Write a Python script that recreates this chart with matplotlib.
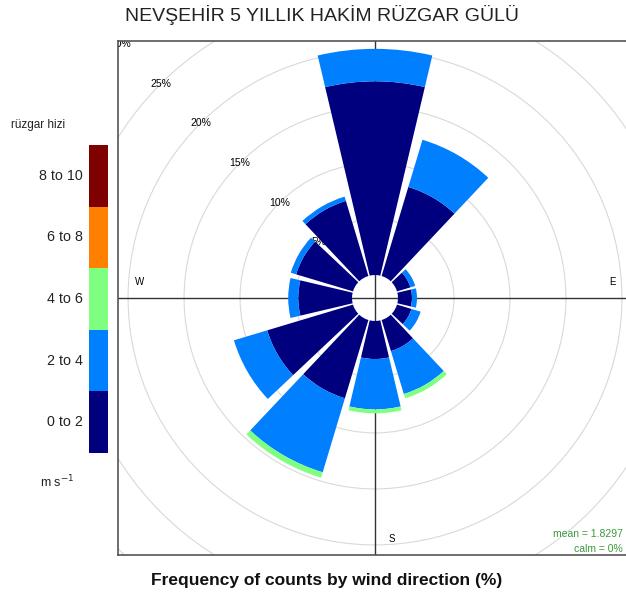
import numpy as np
import matplotlib
matplotlib.use('Agg')
import matplotlib.pyplot as plt
from matplotlib.patches import Wedge, Circle

plt.rcParams['font.family'] = ['Liberation Sans', 'DejaVu Sans']

# wind directions (deg, compass) and frequency (%) per speed class
directions = [0, 30, 60, 90, 120, 150, 180, 210, 240, 270, 300, 330]
spd_0_2 = [17.3, 8.3, 1.25, 1.25, 1.35, 2.9, 3.4, 7.3, 8.0, 4.8, 5.3, 7.0]
spd_2_4 = [2.9, 4.4, 0.45, 0.45, 0.85, 4.0, 4.5, 6.9, 3.1, 0.9, 0.5, 0.4]
spd_4_6 = [0, 0, 0, 0, 0, 0.4, 0.35, 0.5, 0, 0, 0, 0]
spd_6_8 = [0] * 12
spd_8_10 = [0] * 12
classes = ['0 to 2', '2 to 4', '4 to 6', '6 to 8', '8 to 10']
colours = ['#00007F', '#007FFF', '#7FFF7F', '#FF7F00', '#7F0000']
grid_levels = [5, 10, 15, 20, 25, 30]
mean_ws = 1.8297
calm = 0

W, H = 626, 600
fig = plt.figure(figsize=(W / 100, H / 100), dpi=100)

# main panel (extends past the right edge, as in the original)
off = 2.05            # calm circle radius in % units
half = 22.95          # half width of panel in % units
ax = fig.add_axes([118 / W, (H - 556) / H, 514 / W, 516 / H])
ax.set_xlim(-half, half)
ax.set_ylim(-half, half)
ax.set_aspect('equal')
ax.set_xticks([])
ax.set_yticks([])
for s in ax.spines.values():
    s.set_color('#555555')
    s.set_linewidth(1.2)

# grid circles and labels
for g in grid_levels:
    ax.add_patch(Circle((0, 0), off + g, fill=False, ec='#d9d9d9', lw=0.8, zorder=1))
    a = np.deg2rad(315)
    ax.text((off + g) * np.sin(a), (off + g) * np.cos(a), '%d%%' % g,
            fontsize=7.5, ha='center', va='center', zorder=1, clip_on=True)

# axis cross
ax.axhline(0, color='#333333', lw=1, zorder=1)
ax.axvline(0, color='#333333', lw=1, zorder=1)
lab_r = 21.2
ax.text(1.5, lab_r, 'N', fontsize=7, ha='center', va='center', zorder=1)
ax.text(-lab_r + 0.2, 1.4, 'W', fontsize=7, ha='center', va='center', zorder=1)
ax.text(lab_r, 1.4, 'E', fontsize=7, ha='center', va='center', zorder=1)
ax.text(1.5, -lab_r - 0.3, 'S', fontsize=7, ha='center', va='center', zorder=1)

# stacked wedges
bar_w = 26.6
series = [spd_0_2, spd_2_4, spd_4_6, spd_6_8, spd_8_10]
for i, d in enumerate(directions):
    base = off
    for vals, col in zip(series, colours):
        v = vals[i]
        if v <= 0:
            continue
        th = 90 - d
        ax.add_patch(Wedge((0, 0), base + v, th - bar_w / 2, th + bar_w / 2,
                           width=v, fc=col, ec='none', zorder=3))
        base += v

fig.text(623 / W, 1 - 534 / H, 'mean = %s' % mean_ws,
         fontsize=7.5, color='#3a9a3a', ha='right', va='center')
fig.text(623 / W, 1 - 549 / H, 'calm = %d%%' % calm,
         fontsize=7.5, color='#3a9a3a', ha='right', va='center')

# colour key
kax = fig.add_axes([89 / W, (H - 453) / H, 19 / W, 308 / H])
kax.bar([0] * 5, [1] * 5, bottom=range(5), width=1, color=colours)
kax.set_xlim(-0.5, 0.5)
kax.set_ylim(0, 5)
kax.axis('off')
for i, c in enumerate(classes):
    kax.text(-0.32, i + 0.5, c, transform=kax.get_yaxis_transform(),
             fontsize=10.3, ha='right', va='center', color='#222222')
fig.text(38 / W, 1 - 125 / H, 'rüzgar hizi', fontsize=8.5, ha='center', va='center',
         color='#222222')
fig.text(57 / W, 1 - 482 / H, 'm s$^{-1}$', fontsize=9, ha='center', va='center',
         color='#222222')

fig.text(322 / W, 1 - 15 / H, 'NEVŞEHİR 5 YILLIK HAKİM RÜZGAR GÜLÜ', fontsize=14,
         ha='center', va='center', color='#222222')
fig.text(327 / W, 1 - 581 / H, 'Frequency of counts by wind direction (%)', fontsize=12.5,
         fontweight='bold', ha='center', va='center', color='#111111')

fig.savefig('out.png', dpi=100)
